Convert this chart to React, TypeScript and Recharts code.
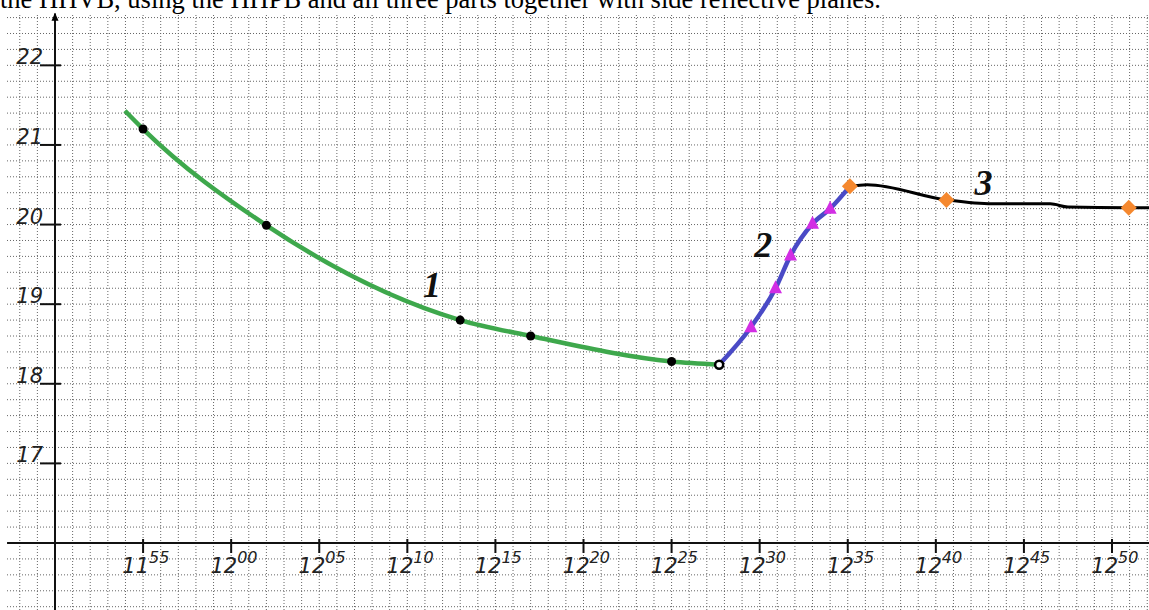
import React from "react";
import {
  ComposedChart,
  Line,
  Scatter,
  XAxis,
  YAxis,
  CartesianGrid,
  ReferenceLine,
  ReferenceDot,
} from "recharts";

// time in minutes after 11:50
const curve1T = [3.97, 5, 12, 23, 27, 35, 37.7];
const curve1V = [21.43, 21.2, 19.99, 18.8, 18.6, 18.28, 18.24];
const dots1T = [5, 12, 23, 27, 35];
const dots1V = [21.2, 19.99, 18.8, 18.6, 18.28];
const openT = [37.7];
const openV = [18.24];

const curve2T = [37.7, 39.5, 40.9, 41.75, 43.0, 44.0, 45.12];
const curve2V = [18.24, 18.71, 19.2, 19.61, 20.01, 20.2, 20.48];
const tri2T = [39.5, 40.9, 41.75, 43.0, 44.0];
const tri2V = [18.71, 19.2, 19.61, 20.01, 20.2];

const curve3T = [45.12, 46.1, 50.6, 53.2, 56.5, 57.5, 60.95, 62.1];
const curve3V = [20.48, 20.5, 20.31, 20.26, 20.26, 20.22, 20.21, 20.21];
const dia3T = [45.12, 50.6, 60.95];
const dia3V = [20.48, 20.31, 20.21];

const xTicks = [5, 10, 15, 20, 25, 30, 35, 40, 45, 50, 55, 60];
const xTickHour = ["11", "12", "12", "12", "12", "12", "12", "12", "12", "12", "12", "12"];
const xTickMin = ["55", "00", "05", "10", "15", "20", "25", "30", "35", "40", "45", "50"];
const yTicks = [17, 18, 19, 20, 21, 22];

const curveNames = ["1", "2", "3"];
const curveNameT = [21.4, 40.2, 52.7];
const curveNameV = [19.09, 19.59, 20.37];

const title =
  "the HHVB, using the HHPB and all three parts together with side reflective planes.";

const zip = (ts: number[], vs: number[]) => ts.map((t, i) => ({ t, v: vs[i] }));

const W = 1149;
const H = 610;
const LEFT = 55;
const TOP = 12;
const BOTTOM = 67;
const X_DOMAIN: [number, number] = [0, 62.1];
const Y_DOMAIN: [number, number] = [16, 22.67];

const plotW = W - LEFT;
const plotH = H - TOP - BOTTOM;
const vertPts: number[] = [];
for (let t = -2; t <= 62; t++) vertPts.push(LEFT + ((t - X_DOMAIN[0]) / (X_DOMAIN[1] - X_DOMAIN[0])) * plotW);
const horzPts: number[] = [];
for (let k = 0; k <= 37; k++) {
  const v = 22.6 - 0.2 * k;
  horzPts.push(TOP + ((Y_DOMAIN[1] - v) / (Y_DOMAIN[1] - Y_DOMAIN[0])) * plotH);
}

const tickFont = "'DejaVu Sans', Verdana, sans-serif";

const XTick = (p: any) => {
  const i = xTicks.indexOf(p.payload.value);
  return (
    <g>
      <line x1={p.x} x2={p.x} y1={p.y - 4} y2={p.y + 10} stroke="#111" strokeWidth={2} />
      <text x={p.x + 6} y={p.y + 30} textAnchor="end" fontFamily={tickFont} fontStyle="italic" fontSize={21} fill="#222">
        {xTickHour[i]}
      </text>
      <text x={p.x + 6} y={p.y + 20} textAnchor="start" fontFamily={tickFont} fontStyle="italic" fontSize={16} fill="#222">
        {xTickMin[i]}
      </text>
    </g>
  );
};

const YTick = (p: any) => (
  <g>
    <line x1={p.x - 15} x2={p.x + 6} y1={p.y} y2={p.y} stroke="#111" strokeWidth={2} />
    <text x={p.x - 12} y={p.y - 1} textAnchor="end" fontFamily={tickFont} fontStyle="italic" fontSize={21} fill="#222">
      {p.payload.value}
    </text>
  </g>
);

const BlackDot = (p: any) => <circle cx={p.cx} cy={p.cy} r={4.5} fill="#000" />;
const OpenDot = (p: any) => <circle cx={p.cx} cy={p.cy} r={4} fill="#fff" stroke="#000" strokeWidth={2.5} />;
const Tri = (p: any) => (
  <polygon
    points={`${p.cx},${p.cy - 8} ${p.cx + 6.5},${p.cy + 5} ${p.cx - 6.5},${p.cy + 5}`}
    fill="#d22ee4"
  />
);
const Diamond = (p: any) => (
  <polygon
    points={`${p.cx},${p.cy - 8} ${p.cx + 8},${p.cy} ${p.cx},${p.cy + 8} ${p.cx - 8},${p.cy}`}
    fill="#f5882e"
  />
);
const Arrow = (p: any) => (
  <polygon points={`${p.cx},${p.cy} ${p.cx + 3.5},${p.cy + 8} ${p.cx - 3.5},${p.cy + 8}`} fill="#000" />
);
const nameShape = (txt: string) => (p: any) => (
  <text
    x={p.cx}
    y={p.cy}
    textAnchor="middle"
    fontFamily="'Liberation Serif', 'Times New Roman', serif"
    fontStyle="italic"
    fontWeight="bold"
    fontSize={36}
    fill="#111"
  >
    {txt}
  </text>
);

export default function App() {
  return (
    <div style={{ position: "fixed", left: 0, top: 0, width: W, height: H, overflow: "hidden", background: "#fff" }}>
      <div
        style={{
          position: "absolute",
          left: 0,
          top: -14,
          fontFamily: "'Liberation Serif', 'Times New Roman', serif",
          fontSize: 26.5,
          lineHeight: "26px",
          whiteSpace: "nowrap",
          color: "#000",
        }}
      >
        {title}
      </div>
      <ComposedChart width={W} height={H} margin={{ top: TOP, right: 0, bottom: BOTTOM - 30, left: LEFT - 40 }}>
        <CartesianGrid
          x={7}
          y={15}
          width={W - 7}
          height={H - 15}
          verticalPoints={vertPts}
          horizontalPoints={horzPts}
          stroke="#666"
          strokeDasharray="1 2"
        />
        <XAxis
          type="number"
          dataKey="t"
          domain={X_DOMAIN}
          allowDataOverflow
          ticks={xTicks}
          interval={0}
          height={30}
          axisLine={false}
          tickLine={false}
          tickSize={0}
          tickMargin={0}
          tick={<XTick />}
        />
        <YAxis
          type="number"
          dataKey="v"
          domain={Y_DOMAIN}
          allowDataOverflow
          ticks={yTicks}
          interval={0}
          width={40}
          axisLine={false}
          tickLine={false}
          tickSize={0}
          tickMargin={0}
          tick={<YTick />}
        />
        <ReferenceLine
          segment={[{ x: -2.72, y: 16 }, { x: 62.1, y: 16 }]}
          stroke="#111"
          strokeWidth={2}
          ifOverflow="visible"
        />
        <ReferenceLine
          segment={[{ x: 0, y: 15.1 }, { x: 0, y: 22.65 }]}
          stroke="#111"
          strokeWidth={2}
          ifOverflow="visible"
        />
        <ReferenceDot x={0} y={22.66} r={0} ifOverflow="visible" shape={Arrow} />

        <Line data={zip(curve1T, curve1V)} dataKey="v" type="monotone" stroke="#3ea84c" strokeWidth={4.5} dot={false} isAnimationActive={false} />
        <Line data={zip(curve2T, curve2V)} dataKey="v" type="monotone" stroke="#4a4ac6" strokeWidth={4.5} dot={false} isAnimationActive={false} />
        <Line data={zip(curve3T, curve3V)} dataKey="v" type="monotone" stroke="#000" strokeWidth={3} dot={false} isAnimationActive={false} />

        <Scatter data={zip(dots1T, dots1V)} shape={BlackDot} isAnimationActive={false} />
        <Scatter data={zip(openT, openV)} shape={OpenDot} isAnimationActive={false} />
        <Scatter data={zip(tri2T, tri2V)} shape={Tri} isAnimationActive={false} />
        <Scatter data={zip(dia3T, dia3V)} shape={Diamond} isAnimationActive={false} />

        {curveNames.map((n, i) => (
          <ReferenceDot key={n} x={curveNameT[i]} y={curveNameV[i]} r={0} ifOverflow="visible" shape={nameShape(n)} />
        ))}
      </ComposedChart>
    </div>
  );
}
